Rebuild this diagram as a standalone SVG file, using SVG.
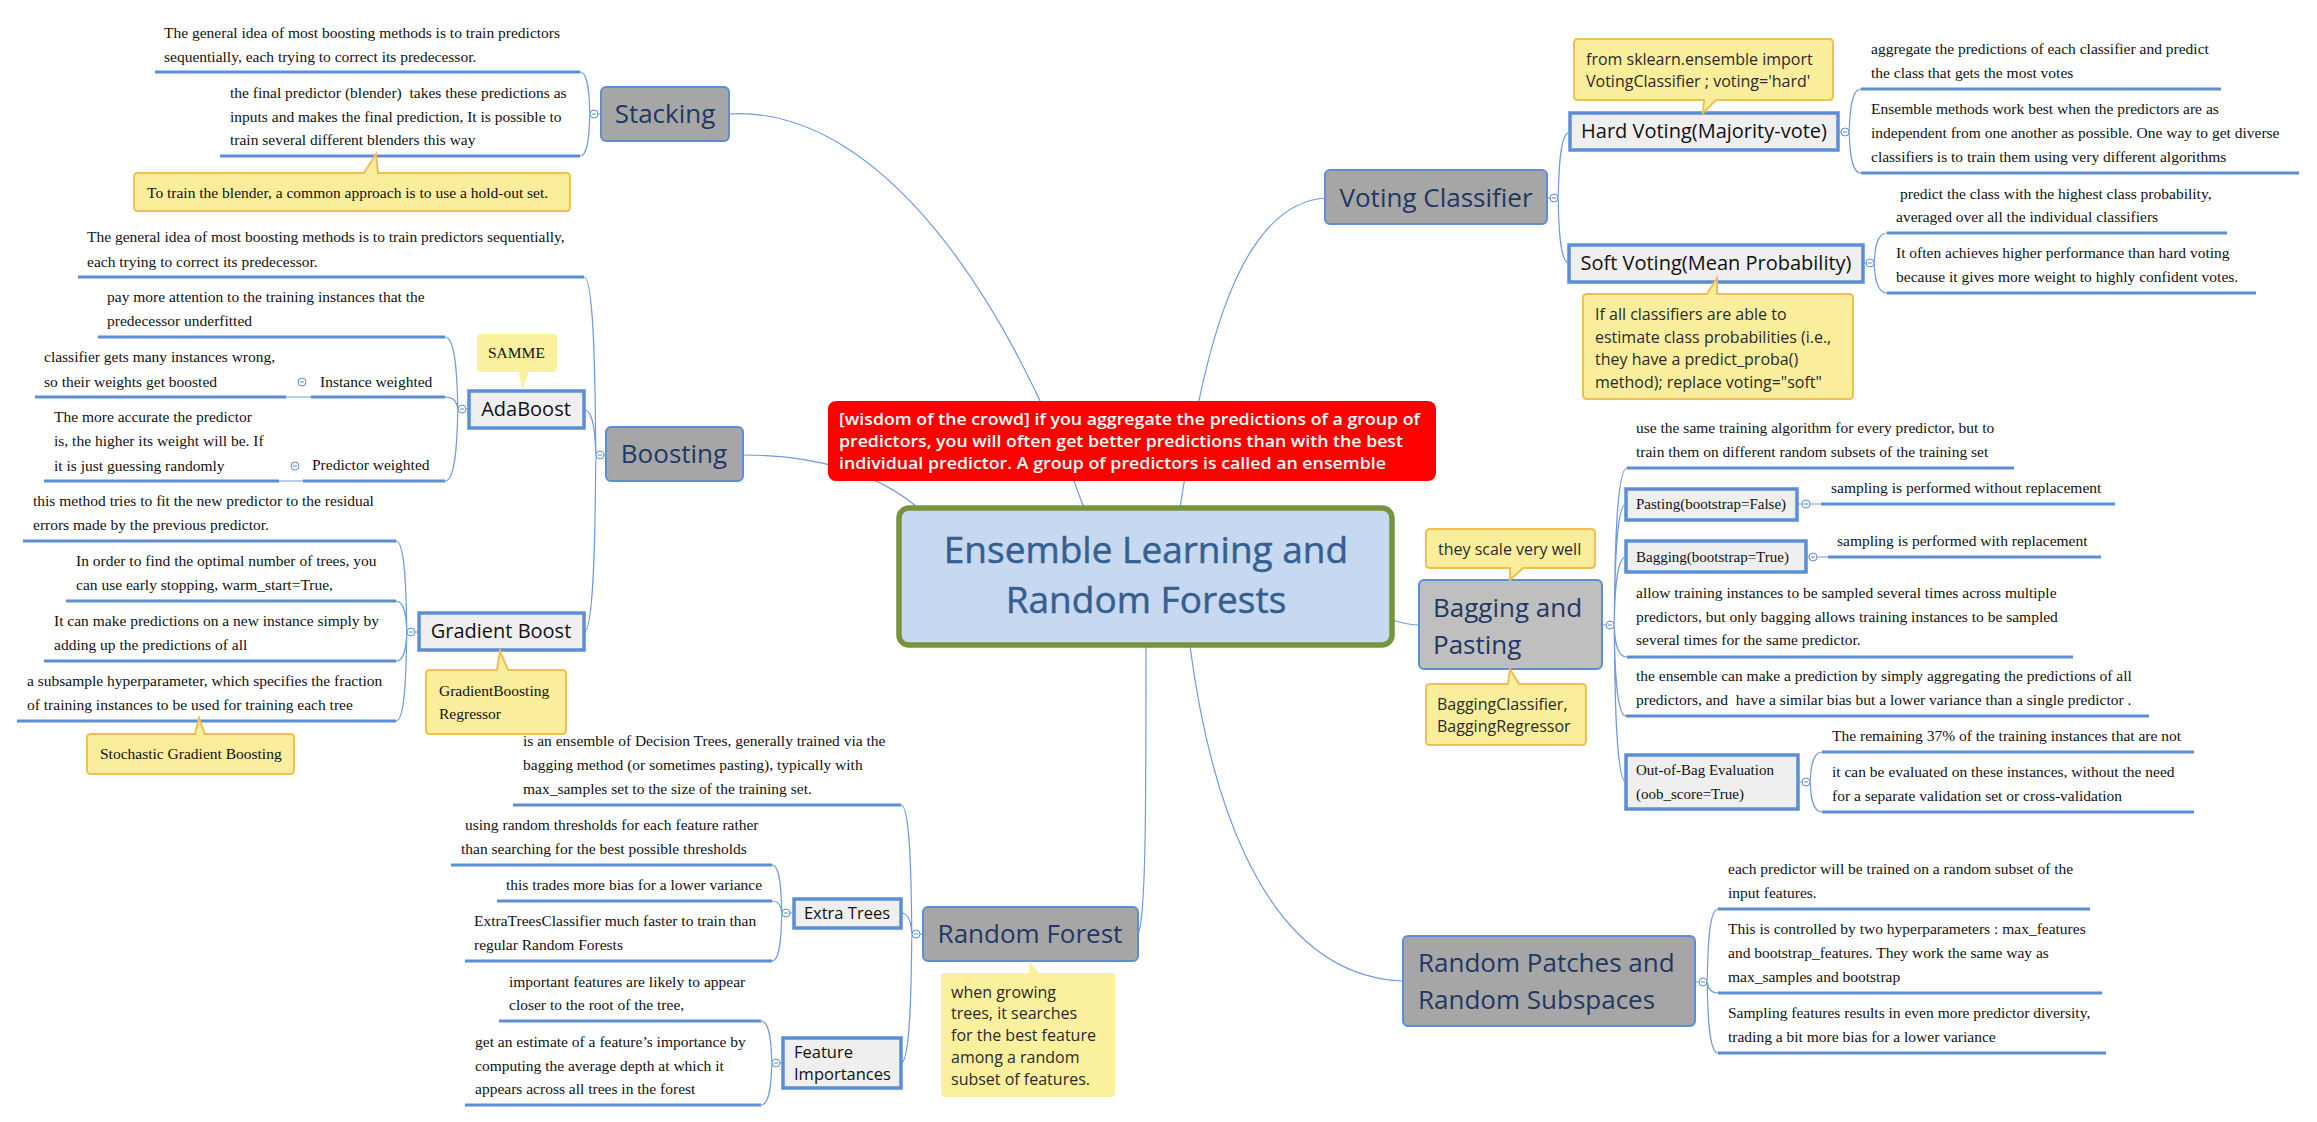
<svg xmlns="http://www.w3.org/2000/svg" width="2317" height="1122" viewBox="0 0 2317 1122">
<style>
.t{font-family:"Liberation Serif","Times New Roman",serif;font-size:15.5px;fill:#111}
.ts{font-family:"Liberation Serif","Times New Roman",serif;font-size:15px;fill:#111}
.ul{stroke:#5B8ED6;stroke-width:3;fill:none}
.cn{stroke:#6F9CDE;stroke-width:1.2;fill:none}
.main{fill:#A6A6A6;stroke:#5B8ED6;stroke-width:2}
.mt{font-family:"Open Sans",sans-serif;font-size:26px;fill:#1F3864}
.sub{fill:#EFEFEF;stroke:#5B8ED6;stroke-width:3.5}
.st{font-family:"Open Sans",sans-serif;font-size:20px;fill:#111}
.sts{font-family:"Open Sans",sans-serif;font-size:16.5px;fill:#111}
.call{fill:#FAEE9C;stroke:#F0BF50;stroke-width:2}
.calln{fill:#FAF09E}
.ct{font-family:"Open Sans",sans-serif;font-size:16px;fill:#2a2a2a}
.col{fill:#fff;stroke:#5B8ED6;stroke-width:1}
.mid{text-anchor:middle}
.title{font-family:"Open Sans",sans-serif;font-size:37px;fill:#365F91;stroke:#365F91;stroke-width:0.5;text-anchor:middle}
</style>
<defs>
<g id="cc"><circle class="col" cx="0" cy="0" r="4"/><line x1="-2.2" y1="0" x2="2.2" y2="0" stroke="#5B8ED6" stroke-width="1"/></g>
</defs>

<g id="connectors">
<path class="cn" d="M729,114 C880,105 1010,300 1084,508"/>
<path class="cn" d="M743,455 C820,455 880,475 918,508"/>
<path class="cn" d="M1180,508 C1200,380 1230,205 1325,198"/>
<path class="cn" d="M1392,620 C1405,624 1410,625 1419,625"/>
<path class="cn" d="M1146,646 C1146,800 1146,920 1138,934"/>
<path class="cn" d="M1190,646 C1205,760 1250,975 1403,981"/>
<path class="cn" d="M580,72 C591,72 589,114 590,114 M580,156 C591,156 589,114 590,114 M598,114 L601,114"/>
<path class="cn" d="M584,277 C597,277 595,455 596,455 M584,410 C597,410 595,455 596,455 M584,632 C597,632 595,455 596,455 M604,455 L606,455"/>
<path class="cn" d="M445,337 C459,337 457,409 458,409 M445,397 C459,397 457,409 458,409 M445,481 C459,481 457,409 458,409 M466,409 L469,409"/>
<path class="cn" d="M396,541 C408,541 406,632 407,632 M396,601 C408,601 406,632 407,632 M396,661 C408,661 406,632 407,632 M396,721 C408,721 406,632 407,632 M415,632 L419,632"/>
<path class="cn" d="M901,805 C913,805 911,934 912,934 M901,913 C913,913 911,934 912,934 M901,1063 C913,1063 911,934 912,934 M920,934 L923,934"/>
<path class="cn" d="M772,865 C783,865 781,913 782,913 M772,901 C783,901 781,913 782,913 M772,961 C783,961 781,913 782,913 M790,913 L794,913"/>
<path class="cn" d="M761,1021 C773,1021 771,1063 772,1063 M761,1105 C773,1105 771,1063 772,1063 M780,1063 L783,1063"/>
<path class="cn" d="M286,397 L311,397 M279,481 L303,481"/>
<path class="cn" d="M1558,198 C1559,198 1557,132 1570,132 M1558,198 C1559,198 1557,263 1569,263 M1547,198 L1550,198"/>
<path class="cn" d="M1849,132 C1850,132 1848,89 1861,89 M1849,132 C1850,132 1848,173 1861,173 M1838,132 L1841,132"/>
<path class="cn" d="M1874,263 C1875,263 1873,233 1887,233 M1874,263 C1875,263 1873,293 1887,293 M1863,263 L1866,263"/>
<path class="cn" d="M1614,625 C1615,625 1613,468 1627,468 M1614,625 C1615,625 1613,504 1626,504 M1614,625 C1615,625 1613,557 1626,557 M1614,625 C1615,625 1613,657 1627,657 M1614,625 C1615,625 1613,716 1626,716 M1614,625 C1615,625 1613,782 1626,782 M1602,625 L1606,625"/>
<path class="cn" d="M1810,782 C1811,782 1809,752 1822,752 M1810,782 C1811,782 1809,812 1822,812 M1798,782 L1802,782"/>
<path class="cn" d="M1707,982 C1708,982 1706,909 1718,909 M1707,982 C1708,982 1706,993 1718,993 M1707,982 C1708,982 1706,1053 1718,1053 M1695,982 L1699,982"/>
<path class="cn" d="M1797,504 L1821,504 M1806,557 L1828,557"/>
</g>

<g id="central">
<rect x="899" y="508" width="493" height="137" rx="10" fill="#C6D9F1" stroke="#77933C" stroke-width="5.5"/>
<text x="1146" y="563" class="title">Ensemble Learning and</text>
<text x="1146" y="613" class="title">Random Forests</text>
</g>

<g id="wisdom">
<rect x="828" y="401" width="608" height="80" rx="8" fill="#FF0000"/>
<g font-family="Open Sans,sans-serif" font-size="17" font-weight="600" fill="#fff">
<text x="839" y="425" textLength="581" lengthAdjust="spacingAndGlyphs">[wisdom of the crowd] if you aggregate the predictions of a group of</text>
<text x="839" y="447" textLength="564" lengthAdjust="spacingAndGlyphs">predictors, you will often get better predictions than with the best</text>
<text x="839" y="469" textLength="547" lengthAdjust="spacingAndGlyphs">individual predictor. A group of predictors is called an ensemble</text>
</g>
</g>

<g id="stacking">
<rect class="main" x="601" y="87" width="128" height="54" rx="5"/>
<text class="mt mid" x="665" y="123">Stacking</text>
<use href="#cc" x="594" y="114"/>
<text class="t" x="164" y="38">The general idea of most boosting methods is to train predictors</text>
<text class="t" x="164" y="62">sequentially, each trying to correct its predecessor.</text>
<line class="ul" x1="155" y1="72" x2="580" y2="72"/>
<text class="t" x="230" y="98" xml:space="preserve">the final predictor (blender)  takes these predictions as</text>
<text class="t" x="230" y="122">inputs and makes the final prediction, It is possible to</text>
<text class="t" x="230" y="145">train several different blenders this way</text>
<line class="ul" x1="220" y1="156" x2="580" y2="156"/>
<path class="call" d="M138,173 H364 L376,154 L378,173 H566 Q570,173 570,177 V207 Q570,211 566,211 H138 Q134,211 134,207 V177 Q134,173 138,173 Z"/>
<text class="t" x="147" y="198">To train the blender, a common approach is to use a hold-out set.</text>
</g>

<g id="boosting">
<rect class="main" x="606" y="427" width="137" height="54" rx="5"/>
<text class="mt mid" x="674" y="463">Boosting</text>
<use href="#cc" x="600" y="455"/>
<text class="t" x="87" y="242">The general idea of most boosting methods is to train predictors sequentially,</text>
<text class="t" x="87" y="267">each trying to correct its predecessor.</text>
<line class="ul" x1="78" y1="277" x2="584" y2="277"/>
</g>

<g id="adaboost">
<rect class="sub" x="469" y="391" width="115" height="37"/>
<text class="st mid" x="526" y="416">AdaBoost</text>
<use href="#cc" x="462" y="409"/>
<path class="calln" d="M481,334 H553 Q557,334 557,338 V368 Q557,372 553,372 H529 L522,390 L519,372 H481 Q477,372 477,368 V338 Q477,334 481,334 Z"/>
<text class="t" x="488" y="358">SAMME</text>
<text class="t" x="107" y="302">pay more attention to the training instances that the</text>
<text class="t" x="107" y="326">predecessor underfitted</text>
<line class="ul" x1="98" y1="337" x2="445" y2="337"/>
<text class="t" x="320" y="387">Instance weighted</text>
<line class="ul" x1="311" y1="397" x2="445" y2="397"/>
<use href="#cc" x="302" y="382"/>
<text class="t" x="44" y="362">classifier gets many instances wrong,</text>
<text class="t" x="44" y="387">so their weights get boosted</text>
<line class="ul" x1="35" y1="397" x2="286" y2="397"/>
<text class="t" x="312" y="470">Predictor weighted</text>
<line class="ul" x1="303" y1="481" x2="445" y2="481"/>
<use href="#cc" x="295" y="466"/>
<text class="t" x="54" y="422">The more accurate the predictor</text>
<text class="t" x="54" y="446">is, the higher its weight will be. If</text>
<text class="t" x="54" y="471">it is just guessing randomly</text>
<line class="ul" x1="44" y1="481" x2="279" y2="481"/>
</g>

<g id="gradient-boost">
<rect class="sub" x="419" y="613" width="165" height="37"/>
<text class="st mid" x="501" y="638">Gradient Boost</text>
<use href="#cc" x="411" y="632"/>
<text class="t" x="33" y="506">this method tries to fit the new predictor to the residual</text>
<text class="t" x="33" y="530">errors made by the previous predictor.</text>
<line class="ul" x1="23" y1="541" x2="396" y2="541"/>
<text class="t" x="76" y="566">In order to find the optimal number of trees, you</text>
<text class="t" x="76" y="590">can use early stopping, warm_start=True,</text>
<line class="ul" x1="66" y1="601" x2="396" y2="601"/>
<text class="t" x="54" y="626">It can make predictions on a new instance simply by</text>
<text class="t" x="54" y="650">adding up the predictions of all</text>
<line class="ul" x1="44" y1="661" x2="396" y2="661"/>
<text class="t" x="27" y="686">a subsample hyperparameter, which specifies the fraction</text>
<text class="t" x="27" y="710">of training instances to be used for training each tree</text>
<line class="ul" x1="17" y1="721" x2="396" y2="721"/>
<path class="call" d="M430,670 H497 L500,651 L508,670 H562 Q566,670 566,674 V730 Q566,734 562,734 H430 Q426,734 426,730 V674 Q426,670 430,670 Z"/>
<text class="t" x="439" y="696">GradientBoosting</text>
<text class="t" x="439" y="719">Regressor</text>
<path class="call" d="M91,734 H195 L199,718 L205,734 H290 Q294,734 294,738 V770 Q294,774 290,774 H91 Q87,774 87,770 V738 Q87,734 91,734 Z"/>
<text class="t" x="100" y="759">Stochastic Gradient Boosting</text>
</g>

<g id="random-forest">
<rect class="main" x="923" y="907" width="215" height="54" rx="5"/>
<text class="mt mid" x="1030" y="943">Random Forest</text>
<use href="#cc" x="916" y="934"/>
<path class="calln" d="M945,973 H1029 L1029,961 L1039,973 H1111 Q1115,973 1115,977 V1093 Q1115,1097 1111,1097 H945 Q941,1097 941,1093 V977 Q941,973 945,973 Z"/>
<text class="ct" x="951" y="998">when growing</text>
<text class="ct" x="951" y="1019">trees, it searches</text>
<text class="ct" x="951" y="1041">for the best feature</text>
<text class="ct" x="951" y="1063">among a random</text>
<text class="ct" x="951" y="1085">subset of features.</text>
<text class="t" x="523" y="746">is an ensemble of Decision Trees, generally trained via the</text>
<text class="t" x="523" y="770">bagging method (or sometimes pasting), typically with</text>
<text class="t" x="523" y="794">max_samples set to the size of the training set.</text>
<line class="ul" x1="513" y1="805" x2="901" y2="805"/>
</g>

<g id="extra-trees">
<rect class="sub" x="794" y="899" width="107" height="29"/>
<text class="sts mid" x="847" y="919">Extra Trees</text>
<use href="#cc" x="786" y="913"/>
<text class="t" x="465" y="830">using random thresholds for each feature rather</text>
<text class="t" x="461" y="854">than searching for the best possible thresholds</text>
<line class="ul" x1="451" y1="865" x2="772" y2="865"/>
<text class="t" x="506" y="890">this trades more bias for a lower variance</text>
<line class="ul" x1="497" y1="901" x2="772" y2="901"/>
<text class="t" x="474" y="926">ExtraTreesClassifier much faster to train than</text>
<text class="t" x="474" y="950">regular Random Forests</text>
<line class="ul" x1="465" y1="961" x2="772" y2="961"/>
</g>

<g id="feature-importances">
<rect class="sub" x="783" y="1038" width="118" height="50"/>
<text class="sts" x="794" y="1058">Feature</text>
<text class="sts" x="794" y="1080">Importances</text>
<use href="#cc" x="776" y="1063"/>
<text class="t" x="509" y="987">important features are likely to appear</text>
<text class="t" x="509" y="1010">closer to the root of the tree,</text>
<line class="ul" x1="499" y1="1021" x2="761" y2="1021"/>
<text class="t" x="475" y="1047">get an estimate of a feature’s importance by</text>
<text class="t" x="475" y="1071">computing the average depth at which it</text>
<text class="t" x="475" y="1094">appears across all trees in the forest</text>
<line class="ul" x1="465" y1="1105" x2="761" y2="1105"/>
</g>

<g id="voting-classifier">
<rect class="main" x="1325" y="170" width="222" height="54" rx="5"/>
<text class="mt mid" x="1436" y="207">Voting Classifier</text>
<use href="#cc" x="1554" y="198"/>
</g>

<g id="hard-voting">
<rect class="sub" x="1570" y="113" width="268" height="37"/>
<text class="st mid" x="1704" y="138">Hard Voting(Majority-vote)</text>
<use href="#cc" x="1845" y="132"/>
<path class="call" d="M1578,39 H1829 Q1833,39 1833,43 V96 Q1833,100 1829,100 H1716 L1703,113 L1704,100 H1578 Q1574,100 1574,96 V43 Q1574,39 1578,39 Z"/>
<text class="ct" x="1586" y="65">from sklearn.ensemble import</text>
<text class="ct" x="1586" y="87">VotingClassifier ; voting='hard'</text>
<text class="t" x="1871" y="54">aggregate the predictions of each classifier and predict</text>
<text class="t" x="1871" y="78">the class that gets the most votes</text>
<line class="ul" x1="1861" y1="89" x2="2221" y2="89"/>
<text class="t" x="1871" y="114">Ensemble methods work best when the predictors are as</text>
<text class="t" x="1871" y="138">independent from one another as possible. One way to get diverse</text>
<text class="t" x="1871" y="162">classifiers is to train them using very different algorithms</text>
<line class="ul" x1="1861" y1="173" x2="2299" y2="173"/>
</g>

<g id="soft-voting">
<rect class="sub" x="1569" y="245" width="294" height="37"/>
<text class="st mid" x="1716" y="270">Soft Voting(Mean Probability)</text>
<use href="#cc" x="1870" y="263"/>
<path class="call" d="M1587,294 H1707 L1717,278 L1717,294 H1849 Q1853,294 1853,298 V395 Q1853,399 1849,399 H1587 Q1583,399 1583,395 V298 Q1583,294 1587,294 Z"/>
<text class="ct" x="1595" y="320">If all classifiers are able to</text>
<text class="ct" x="1595" y="343">estimate class probabilities (i.e.,</text>
<text class="ct" x="1595" y="365">they have a predict_proba()</text>
<text class="ct" x="1595" y="388">method); replace voting="soft"</text>
<text class="t" x="1900" y="199">predict the class with the highest class probability,</text>
<text class="t" x="1896" y="222">averaged over all the individual classifiers</text>
<line class="ul" x1="1887" y1="233" x2="2227" y2="233"/>
<text class="t" x="1896" y="258">It often achieves higher performance than hard voting</text>
<text class="t" x="1896" y="282">because it gives more weight to highly confident votes.</text>
<line class="ul" x1="1887" y1="293" x2="2256" y2="293"/>
</g>

<g id="bagging-pasting">
<rect x="1419" y="580" width="183" height="89" rx="5" fill="#BFBFBF" stroke="#5B8ED6" stroke-width="2"/>
<text class="mt" x="1433" y="617">Bagging and</text>
<text class="mt" x="1433" y="654">Pasting</text>
<use href="#cc" x="1610" y="625"/>
<path class="call" d="M1430,529 H1591 Q1595,529 1595,533 V564 Q1595,568 1591,568 H1523 L1510,580 L1510,568 H1430 Q1426,568 1426,564 V533 Q1426,529 1430,529 Z"/>
<text class="ct" x="1438" y="555">they scale very well</text>
<path class="call" d="M1430,684 H1508 L1510,669 L1519,684 H1582 Q1586,684 1586,688 V741 Q1586,745 1582,745 H1430 Q1426,745 1426,741 V688 Q1426,684 1430,684 Z"/>
<text class="ct" x="1437" y="710">BaggingClassifier,</text>
<text class="ct" x="1437" y="732">BaggingRegressor</text>
<text class="t" x="1636" y="433">use the same training algorithm for every predictor, but to</text>
<text class="t" x="1636" y="457">train them on different random subsets of the training set</text>
<line class="ul" x1="1627" y1="468" x2="2014" y2="468"/>
<text class="t" x="1636" y="598">allow training instances to be sampled several times across multiple</text>
<text class="t" x="1636" y="622">predictors, but only bagging allows training instances to be sampled</text>
<text class="t" x="1636" y="645">several times for the same predictor.</text>
<line class="ul" x1="1627" y1="657" x2="2073" y2="657"/>
<text class="t" x="1636" y="681">the ensemble can make a prediction by simply aggregating the predictions of all</text>
<text class="t" x="1636" y="705" xml:space="preserve">predictors, and  have a similar bias but a lower variance than a single predictor .</text>
<line class="ul" x1="1626" y1="716" x2="2149" y2="716"/>
</g>

<g id="pasting">
<rect class="sub" x="1626" y="489" width="171" height="31"/>
<text class="ts" x="1636" y="509">Pasting(bootstrap=False)</text>
<use href="#cc" x="1806" y="504"/>
<text class="t" x="1831" y="493">sampling is performed without replacement</text>
<line class="ul" x1="1821" y1="504" x2="2115" y2="504"/>
</g>

<g id="bagging">
<rect class="sub" x="1626" y="541" width="180" height="31"/>
<text class="ts" x="1636" y="562">Bagging(bootstrap=True)</text>
<use href="#cc" x="1813" y="557"/>
<text class="t" x="1837" y="546">sampling is performed with replacement</text>
<line class="ul" x1="1828" y1="557" x2="2101" y2="557"/>
</g>

<g id="out-of-bag">
<rect class="sub" x="1626" y="755" width="172" height="54"/>
<text class="ts" x="1636" y="775">Out-of-Bag Evaluation</text>
<text class="ts" x="1636" y="799">(oob_score=True)</text>
<use href="#cc" x="1806" y="782"/>
<text class="t" x="1832" y="741">The remaining 37% of the training instances that are not</text>
<line class="ul" x1="1822" y1="752" x2="2194" y2="752"/>
<text class="t" x="1832" y="777">it can be evaluated on these instances, without the need</text>
<text class="t" x="1832" y="801">for a separate validation set or cross-validation</text>
<line class="ul" x1="1822" y1="812" x2="2194" y2="812"/>
</g>

<g id="random-patches">
<rect class="main" x="1403" y="936" width="292" height="90" rx="5"/>
<text class="mt" x="1418" y="972">Random Patches and</text>
<text class="mt" x="1418" y="1009">Random Subspaces</text>
<use href="#cc" x="1703" y="982"/>
<text class="t" x="1728" y="874">each predictor will be trained on a random subset of the</text>
<text class="t" x="1728" y="898">input features.</text>
<line class="ul" x1="1718" y1="909" x2="2090" y2="909"/>
<text class="t" x="1728" y="934">This is controlled by two hyperparameters : max_features</text>
<text class="t" x="1728" y="958">and bootstrap_features. They work the same way as</text>
<text class="t" x="1728" y="982">max_samples and bootstrap</text>
<line class="ul" x1="1718" y1="993" x2="2102" y2="993"/>
<text class="t" x="1728" y="1018">Sampling features results in even more predictor diversity,</text>
<text class="t" x="1728" y="1042">trading a bit more bias for a lower variance</text>
<line class="ul" x1="1718" y1="1053" x2="2106" y2="1053"/>
</g>
</svg>
